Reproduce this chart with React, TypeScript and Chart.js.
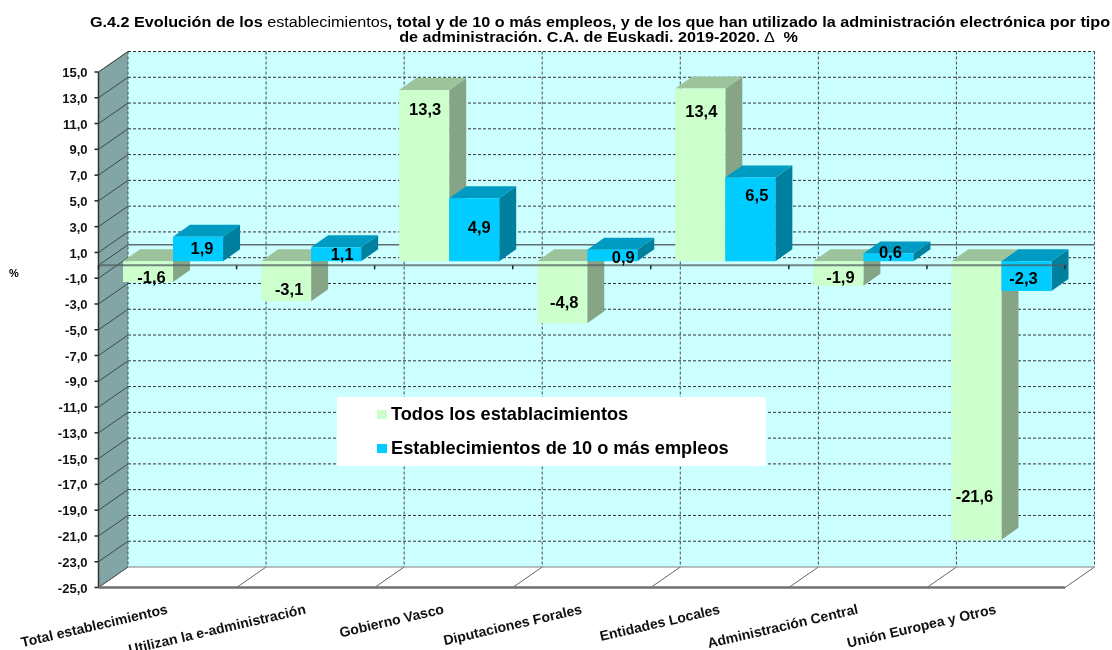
import React, { useEffect, useRef } from "react";
import { Chart, registerables } from "chart.js";

Chart.register(...registerables);

const categories = [
  "Total establecimientos",
  "Utilizan la e-administración",
  "Gobierno Vasco",
  "Diputaciones Forales",
  "Entidades Locales",
  "Administración Central",
  "Unión Europea y Otros",
];
const todos = [-1.6, -3.1, 13.3, -4.8, 13.4, -1.9, -21.6];
const diez = [1.9, 1.1, 4.9, 0.9, 6.5, 0.6, -2.3];
const seriesNames = ["Todos los establacimientos", "Establecimientos de 10 o más empleos"];

const FONT = '"Liberation Sans", Arial, sans-serif';
const WALL = { dx: 29.5, dy: -20.5 };
const BAR_FRONT = { dx: 5.5, dy: -4 };
const BAR_DEPTH = { dx: 17, dy: -12 };
const labelNudge = [
  [[3.5, 7], [3, 9], [1, -65], [2, 11.5], [1, -63], [2, 5], [-2, 97]],
  [[4, 0], [6, 1], [5, -1], [11, 3], [6.5, -22.5], [2, -4], [-3, 3]],
];
const faces = [
  { front: "#CCFFCC", top: "#9DC39D", side: "#86A586" },
  { front: "#00CCFF", top: "#009BC2", side: "#00809F" },
];

function poly(ctx: any, pts: number[][], fill: string) {
  ctx.beginPath();
  pts.forEach((p, i) => (i ? ctx.lineTo(p[0], p[1]) : ctx.moveTo(p[0], p[1])));
  ctx.closePath();
  ctx.fillStyle = fill;
  ctx.fill();
}
function seg(ctx: any, x1: number, y1: number, x2: number, y2: number, color: string, w: number, dash: number[] = []) {
  ctx.beginPath();
  ctx.setLineDash(dash);
  ctx.moveTo(x1, y1);
  ctx.lineTo(x2, y2);
  ctx.strokeStyle = color;
  ctx.lineWidth = w;
  ctx.stroke();
  ctx.setLineDash([]);
}

const scene = {
  id: "scene",
  beforeDatasetsDraw(chart: any) {
    const { ctx, chartArea: a, scales } = chart;
    const { dx, dy } = WALL;
    const y = scales.y;
    const step = a.width / categories.length;
    ctx.save();
    poly(ctx, [[a.left + dx, a.top + dy], [a.right + dx, a.top + dy], [a.right + dx, a.bottom + dy], [a.left + dx, a.bottom + dy]], "#CCFFFF");
    poly(ctx, [[a.left, a.top], [a.left + dx, a.top + dy], [a.left + dx, a.bottom + dy], [a.left, a.bottom]], "#82A6A6");
    y.ticks.forEach((t: any) => {
      const py = y.getPixelForValue(t.value);
      if (t.value !== -25) seg(ctx, a.left + dx, py + dy, a.right + dx, py + dy, "#333333", 1, [3, 2]);
      seg(ctx, a.left, py, a.left + dx, py + dy, "#3c4a4a", 1);
      seg(ctx, a.left - 4, py, a.left, py, "#222222", 1.5);
    });
    for (let i = 0; i <= categories.length; i++) {
      const px = a.left + i * step;
      seg(ctx, px + dx, a.top + dy, px + dx, a.bottom + dy, "#4a4a4a", 1, [3, 2]);
      seg(ctx, px, a.bottom, px + dx, a.bottom + dy, "#666666", 1);
    }
    seg(ctx, a.left + dx, a.bottom + dy, a.right + dx, a.bottom + dy, "#808080", 1);
    const zero = y.getPixelForValue(0);
    seg(ctx, a.left + dx, zero + dy, a.right + dx, zero + dy, "#5f6f6f", 1.5);
    seg(ctx, a.left, zero, a.left + dx, zero + dy, "#3c4a4a", 1);
    seg(ctx, a.left, a.top, a.left, a.bottom, "#333333", 1.5);
    seg(ctx, a.left, a.top, a.left + dx, a.top + dy, "#555555", 1);
    seg(ctx, a.left, a.bottom, a.right, a.bottom, "#707070", 2.5);

    // bars: left series first, so each right-hand bar covers its neighbour's side face
    ctx.translate(BAR_FRONT.dx, BAR_FRONT.dy);
    [0, 1].forEach((index) => {
      const meta = chart.getDatasetMeta(index);
      const look = faces[index];
      meta.data.forEach((bar: any) => {
        const l = bar.x - bar.width / 2;
        const r = bar.x + bar.width / 2;
        const hi = Math.min(bar.y, bar.base);
        const lo = Math.max(bar.y, bar.base);
        const d = BAR_DEPTH;
        poly(ctx, [[r, hi], [r + d.dx, hi + d.dy], [r + d.dx, lo + d.dy], [r, lo]], look.side);
        poly(ctx, [[l, hi], [l + d.dx, hi + d.dy], [r + d.dx, hi + d.dy], [r, hi]], look.top);
      });
      meta.controller.draw();
    });
    ctx.restore();
  },
  beforeDatasetDraw() {
    return false;
  },
  afterDatasetsDraw(chart: any) {
    const { ctx, chartArea: a, scales } = chart;
    const y = scales.y;
    const zero = y.getPixelForValue(0);
    const step = a.width / categories.length;
    ctx.save();
    seg(ctx, a.left, zero, a.right, zero, "rgba(80,95,95,0.75)", 2);
    for (let i = 0; i <= categories.length; i++) {
      seg(ctx, a.left + i * step, zero, a.left + i * step, zero + 4, "#222222", 1.5);
    }
    ctx.font = `bold 16.5px ${FONT}`;
    ctx.fillStyle = "#000000";
    ctx.textAlign = "center";
    ctx.textBaseline = "middle";
    chart.data.datasets.forEach((ds: any, s: number) => {
      chart.getDatasetMeta(s).data.forEach((bar: any, i: number) => {
        const [nx, ny] = labelNudge[s][i];
        const text = ds.data[i].toFixed(1).replace(".", ",");
        ctx.fillText(text, bar.x + BAR_FRONT.dx + nx, (bar.y + bar.base) / 2 + BAR_FRONT.dy + ny);
      });
    });
    ctx.fillStyle = "#FFFFFF";
    ctx.fillRect(337, 397, 429, 69);
    ctx.textAlign = "left";
    ctx.font = `bold 18.2px ${FONT}`;
    chart.data.datasets.forEach((ds: any, s: number) => {
      const cy = s === 0 ? 414.5 : 448.5;
      ctx.fillStyle = faces[s].front;
      ctx.fillRect(377, cy - 4.5, 10, 9);
      ctx.fillStyle = "#000000";
      ctx.fillText(ds.label, 391, cy);
    });
    ctx.font = `bold 11px ${FONT}`;
    ctx.textAlign = "center";
    ctx.fillText("%", 14, 274);
    const runs1 = [
      ["bold", "G.4.2 Evolución de los "],
      ["normal", "establecimientos"],
      ["bold", ", total y de 10 o más empleos, y de los que han utilizado la administración electrónica por tipo"],
    ];
    const runs2 = [
      ["bold", "de administración. C.A. de Euskadi. 2019-2020. "],
      ["normal", "∆"],
      ["bold", "  %"],
    ];
    const drawRuns = (runs: string[][], cx: number, cy: number) => {
      ctx.textAlign = "left";
      const fontOf = (w: string) => `${w} 16.2px ${FONT}`;
      ctx.save();
      ctx.translate(cx, cy);
      ctx.scale(1, 0.9);
      let total = 0;
      runs.forEach(([w, t]) => {
        ctx.font = fontOf(w);
        total += ctx.measureText(t).width;
      });
      let x = -total / 2;
      runs.forEach(([w, t]) => {
        ctx.font = fontOf(w);
        ctx.fillStyle = "#000000";
        ctx.fillText(t, x, 0);
        x += ctx.measureText(t).width;
      });
      ctx.restore();
    };
    drawRuns(runs1, 600, 22.5);
    drawRuns(runs2, 598.5, 37.5);
    ctx.restore();
  },
};

export default function App() {
  const ref = useRef<HTMLCanvasElement>(null);
  useEffect(() => {
    const chart = new Chart(ref.current as HTMLCanvasElement, {
      type: "bar",
      data: {
        labels: categories,
        datasets: [
          { label: seriesNames[0], data: todos, backgroundColor: faces[0].front, clip: false },
          { label: seriesNames[1], data: diez, backgroundColor: faces[1].front, clip: false },
        ],
      } as any,
      options: {
        responsive: false,
        animation: false,
        layout: { padding: { left: 0, top: 72, right: 47, bottom: 0 } },
        datasets: { bar: { categoryPercentage: 100 / 138, barPercentage: 1 } },
        plugins: { legend: { display: false }, title: { display: false }, tooltip: { enabled: false } },
        scales: {
          x: {
            grid: { display: false },
            border: { display: false },
            ticks: {
              autoSkip: false,
              minRotation: 13,
              maxRotation: 13,
              padding: 6,
              color: "#111111",
              font: { family: FONT, size: 14, weight: "bold" },
            },
            afterFit: (s: any) => {
              s.height = 62.5;
            },
          },
          y: {
            min: -25,
            max: 15,
            grid: { display: false },
            border: { display: false },
            ticks: {
              stepSize: 2,
              padding: 3,
              labelOffset: 1.5,
              color: "#111111",
              font: { family: FONT, size: 13, weight: "bold" },
              callback: (v: any) => Number(v).toFixed(1).replace(".", ","),
            },
            afterFit: (s: any) => {
              s.width = 98.5;
            },
          },
        },
      } as any,
      plugins: [scene],
    });
    return () => chart.destroy();
  }, []);
  return (
    <canvas
      ref={ref}
      width={1112}
      height={650}
      style={{ position: "absolute", left: 0, top: 0, width: 1112, height: 650, display: "block" }}
    />
  );
}
